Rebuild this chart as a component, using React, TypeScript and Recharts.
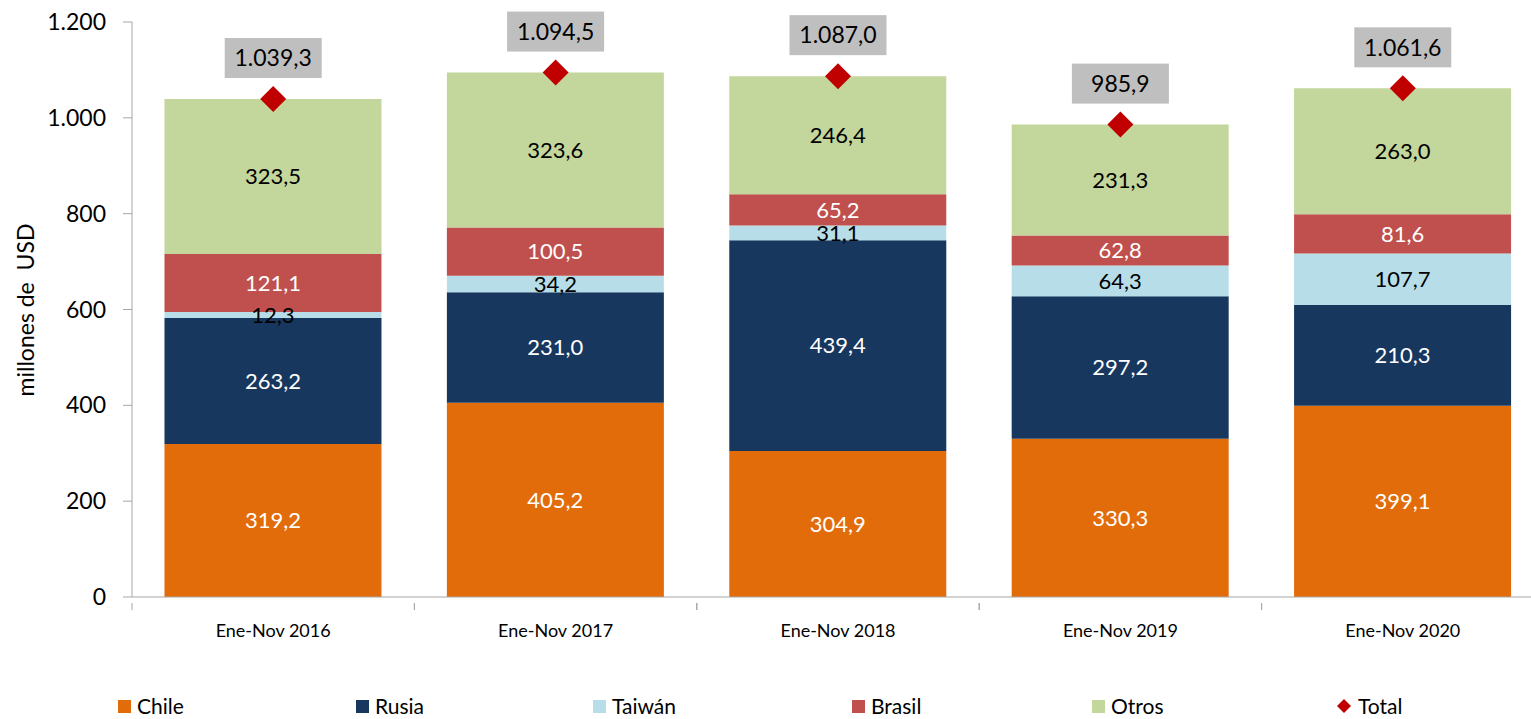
import { Bar, ComposedChart, LabelList, Line, XAxis, YAxis } from 'recharts';

const categories = ['Ene-Nov 2016', 'Ene-Nov 2017', 'Ene-Nov 2018', 'Ene-Nov 2019', 'Ene-Nov 2020'];
const chile = [319.2, 405.2, 304.9, 330.3, 399.1];
const rusia = [263.2, 231.0, 439.4, 297.2, 210.3];
const taiwan = [12.3, 34.2, 31.1, 64.3, 107.7];
const brasil = [121.1, 100.5, 65.2, 62.8, 81.6];
const otros = [323.5, 323.6, 246.4, 231.3, 263.0];
const total = [1039.3, 1094.5, 1087.0, 985.9, 1061.6];
const yTicks = [0, 200, 400, 600, 800, 1000, 1200];

const data = categories.map((name, i) => ({
  name,
  chile: chile[i],
  rusia: rusia[i],
  taiwan: taiwan[i],
  brasil: brasil[i],
  otros: otros[i],
  total: total[i],
}));

const FONT = 'Lato, "Open Sans", sans-serif';
const AXIS = '#a6a6a6';

const CHART_W = 1545;
const CHART_H = 719;
const Y_W = 132;
const RIGHT = 1;
const HALF_BAND = (CHART_W - Y_W - RIGHT) / categories.length / 2;

// 1234.5 -> "1.234,5"
const fmt = (v: number, dec = 1) => {
  const [int, frac] = v.toFixed(dec).split('.');
  const withDots = int.replace(/\B(?=(\d{3})+(?!\d))/g, '.');
  return frac ? `${withDots},${frac}` : withDots;
};

const series = [
  { key: 'chile', label: 'Chile', color: '#e36c0a', text: '#fff' },
  { key: 'rusia', label: 'Rusia', color: '#17375e', text: '#fff' },
  { key: 'taiwan', label: 'Taiwán', color: '#b7dee8', text: '#000' },
  { key: 'brasil', label: 'Brasil', color: '#c0504d', text: '#fff' },
  { key: 'otros', label: 'Otros', color: '#c3d69b', text: '#000' },
];

const legendX = [118, 356, 593, 852, 1092, 1337];

function CategoryTick(props: any) {
  const { x, y, payload } = props;
  const ay = y - 20;
  return (
    <g>
      <line x1={x - HALF_BAND} x2={x - HALF_BAND} y1={ay} y2={ay + 7} stroke={AXIS} />
      <line x1={x + HALF_BAND} x2={x + HALF_BAND} y1={ay} y2={ay + 7} stroke={AXIS} />
      <text x={x} y={y} dy="0.8em" textAnchor="middle" fontSize={18} fill="#000" fontFamily={FONT}>
        {payload.value}
      </text>
    </g>
  );
}

function Diamond(props: any) {
  const { cx, cy } = props;
  if (cx == null || cy == null) return null;
  const r = 13;
  return <path d={`M${cx},${cy - r}L${cx + r},${cy}L${cx},${cy + r}L${cx - r},${cy}Z`} fill="#c00000" />;
}

function TotalLabel(props: any) {
  const { x, y, value } = props;
  const cy = y - 41;
  return (
    <g>
      <rect x={x - 48.5} y={cy - 20} width={97} height={40} fill="#bfbfbf" />
      <text x={x} y={cy} dy="0.36em" textAnchor="middle" fontSize={23} fill="#000" fontFamily={FONT}>
        {fmt(value)}
      </text>
    </g>
  );
}

export default function App() {
  return (
    <div style={{ position: 'absolute', left: 0, top: 0, width: 1531, height: 719, overflow: 'hidden', background: '#fff', fontFamily: FONT }}>
      <ComposedChart
        width={CHART_W}
        height={CHART_H}
        data={data}
        margin={{ top: 22, right: RIGHT, left: 0, bottom: 0 }}
        barCategoryGap="11.5%"
      >
        <XAxis
          xAxisId="cat"
          dataKey="name"
          height={122}
          stroke={AXIS}
          tickLine={false}
          tickMargin={20}
          tick={<CategoryTick />}
          interval={0}
        />
        <YAxis
          width={Y_W}
          domain={[0, 1200]}
          ticks={yTicks}
          stroke={AXIS}
          tickSize={9}
          tickMargin={17}
          tick={{ fill: '#000', fontSize: 23, fontFamily: FONT }}
          tickFormatter={(v: number) => fmt(v, 0)}
          interval={0}
        />
        {series.map((s) => (
          <Bar key={s.key} xAxisId="cat" dataKey={s.key} stackId="a" fill={s.color} isAnimationActive={false}>
            <LabelList
              dataKey={s.key}
              position="center"
              fill={s.text}
              fontSize={22}
              fontFamily={FONT}
              formatter={(v: any) => fmt(Number(v))}
            />
          </Bar>
        ))}
        <Line
          xAxisId="cat"
          dataKey="total"
          stroke="none"
          dot={<Diamond />}
          activeDot={false}
          isAnimationActive={false}
          label={<TotalLabel />}
        />
      </ComposedChart>

      <div
        style={{
          position: 'absolute',
          left: 25,
          top: 310,
          transform: 'translate(-50%, -50%) rotate(-90deg)',
          fontSize: 23,
          whiteSpace: 'pre',
          color: '#000',
        }}
      >
        {'millones de  USD'}
      </div>

      {[...series, { key: 'total', label: 'Total', color: '#c00000', text: '#000' }].map((s, i) => (
        <div
          key={s.key}
          style={{ position: 'absolute', left: legendX[i], top: 694, display: 'flex', alignItems: 'center', fontSize: 21, color: '#000', lineHeight: '24px' }}
        >
          {s.key === 'total' ? (
            <svg width={14} height={14} style={{ marginRight: 7 }}>
              <path d="M7,0L14,7L7,14L0,7Z" fill={s.color} />
            </svg>
          ) : (
            <span style={{ display: 'inline-block', width: 13, height: 13, background: s.color, marginRight: 6 }} />
          )}
          {s.label}
        </div>
      ))}
    </div>
  );
}
